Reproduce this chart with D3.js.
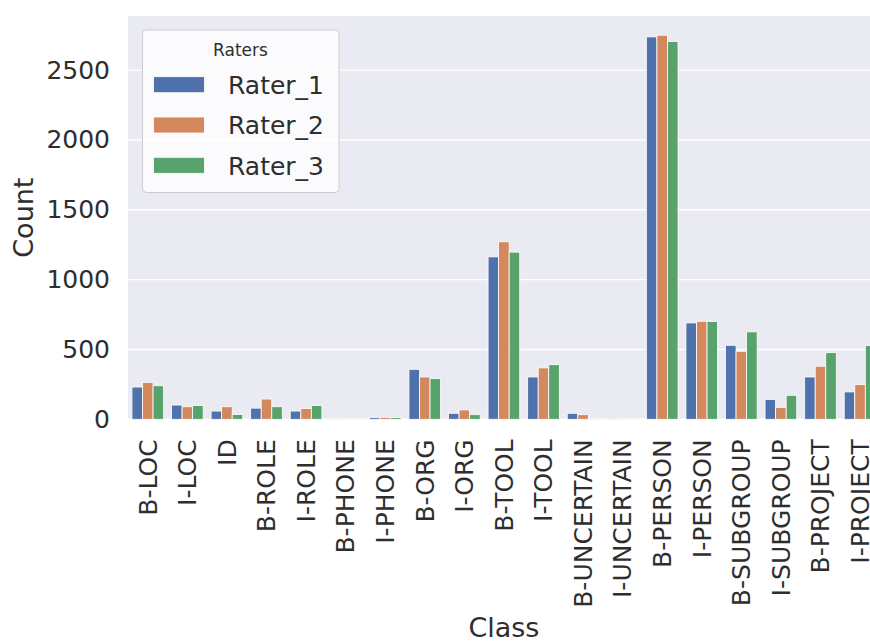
<!DOCTYPE html>
<html>
<head>
<meta charset="utf-8">
<script src="https://cdn.jsdelivr.net/npm/d3@7"></script>
<style>
  html, body { margin: 0; padding: 0; background: #ffffff; }
  svg { display: block; font-family: "DejaVu Sans", sans-serif; }
</style>
</head>
<body>
<svg id="chart" width="870" height="642"></svg>
<script>
const categories = ["B-LOC","I-LOC","ID","B-ROLE","I-ROLE","B-PHONE","I-PHONE","B-ORG","I-ORG","B-TOOL","I-TOOL","B-UNCERTAIN","I-UNCERTAIN","B-PERSON","I-PERSON","B-SUBGROUP","I-SUBGROUP","B-PROJECT","I-PROJECT"];
const raters = ["Rater_1","Rater_2","Rater_3"];
const rater1 = [231,102,59,80,59,3,12,358,43,1163,303,43,4,2738,690,530,143,303,196];
const rater2 = [264,90,90,145,77,3,14,303,67,1271,368,33,3,2750,702,487,86,380,248];
const rater3 = [240,99,34,90,99,2,12,291,33,1197,391,3,2,2705,700,626,172,477,528];
const yTicks = [0,500,1000,1500,2000,2500];
const colors = ["#5072ac","#d4885e","#58a36c"];

(function () {
const series = [rater1, rater2, rater3];
const svg = d3.select("#chart");
const pLeft = 128, pTop = 16, pBottom = 419.3;
const step = 39.57;
const pRight = pLeft + step * categories.length;

const x = d3.scaleBand().domain(categories).range([pLeft, pRight]).paddingInner(0).paddingOuter(0);
const xi = d3.scaleBand().domain(raters).range([x.bandwidth()*0.1, x.bandwidth()*0.9]);
const maxVal = d3.max(series.flat());
const y = d3.scaleLinear().domain([0, maxVal*1.05]).range([pBottom, pTop]);

svg.append("rect").attr("x", pLeft).attr("y", pTop).attr("width", pRight-pLeft).attr("height", pBottom-pTop).attr("fill", "#eaeaf2");

svg.append("g").selectAll("line").data(yTicks).join("line")
  .attr("x1", pLeft).attr("x2", pRight)
  .attr("y1", d => y(d)).attr("y2", d => y(d))
  .attr("stroke", "#ffffff").attr("stroke-width", 1.4);

const data = [];
categories.forEach((c, i) => raters.forEach((r, j) => data.push({c, r, j, v: series[j][i]})));
svg.append("g").selectAll("rect").data(data).join("rect")
  .attr("x", d => x(d.c) + xi(d.r))
  .attr("width", xi.bandwidth())
  .attr("y", d => y(d.v))
  .attr("height", d => y(0) - y(d.v))
  .attr("fill", d => colors[d.j])
  .attr("stroke", "#ffffff").attr("stroke-width", 0.8);

const yAxis = svg.append("g").attr("transform", `translate(${pLeft},0)`)
  .call(d3.axisLeft(y).tickValues(yTicks).tickSize(0).tickPadding(18).tickFormat(d3.format("d")));
yAxis.select(".domain").remove();
yAxis.selectAll("text").attr("font-size", 25).attr("fill", "#2e2e2e").attr("font-family", "DejaVu Sans");

const xAxis = svg.append("g").attr("transform", `translate(0,${pBottom})`)
  .call(d3.axisBottom(x).tickSize(0).tickPadding(0));
xAxis.select(".domain").remove();
xAxis.selectAll("text")
  .attr("font-size", 25).attr("fill", "#2e2e2e").attr("font-family", "DejaVu Sans")
  .attr("text-anchor", "end")
  .attr("transform", "rotate(-90)")
  .attr("x", -20).attr("y", 0).attr("dy", "0.35em");

svg.append("text").attr("x", (pLeft+pRight)/2).attr("y", 637)
  .attr("text-anchor", "middle").attr("font-size", 27).attr("fill", "#2e2e2e").text("Class");
svg.append("text").attr("transform", `translate(33,${(pTop+pBottom)/2}) rotate(-90)`)
  .attr("text-anchor", "middle").attr("font-size", 27).attr("fill", "#2e2e2e").text("Count");

const lg = svg.append("g");
lg.append("rect").attr("x", 142.5).attr("y", 30).attr("width", 196.5).attr("height", 162.5)
  .attr("rx", 4).attr("fill", "#ffffff").attr("fill-opacity", 0.8)
  .attr("stroke", "#cccccc").attr("stroke-width", 1);
lg.append("text").attr("x", 240.5).attr("y", 55.5).attr("text-anchor", "middle")
  .attr("font-size", 17).attr("fill", "#2e2e2e").text("Raters");
raters.forEach((r, j) => {
  const cy = 84.7 + j*40.3;
  lg.append("rect").attr("x", 153.5).attr("y", cy-8).attr("width", 51).attr("height", 16)
    .attr("fill", colors[j]).attr("stroke", "#ffffff").attr("stroke-width", 0.8);
  lg.append("text").attr("x", 228).attr("y", cy+9.3).attr("font-size", 25).attr("fill", "#2e2e2e").text(r);
});
})();
</script>
</body>
</html>
